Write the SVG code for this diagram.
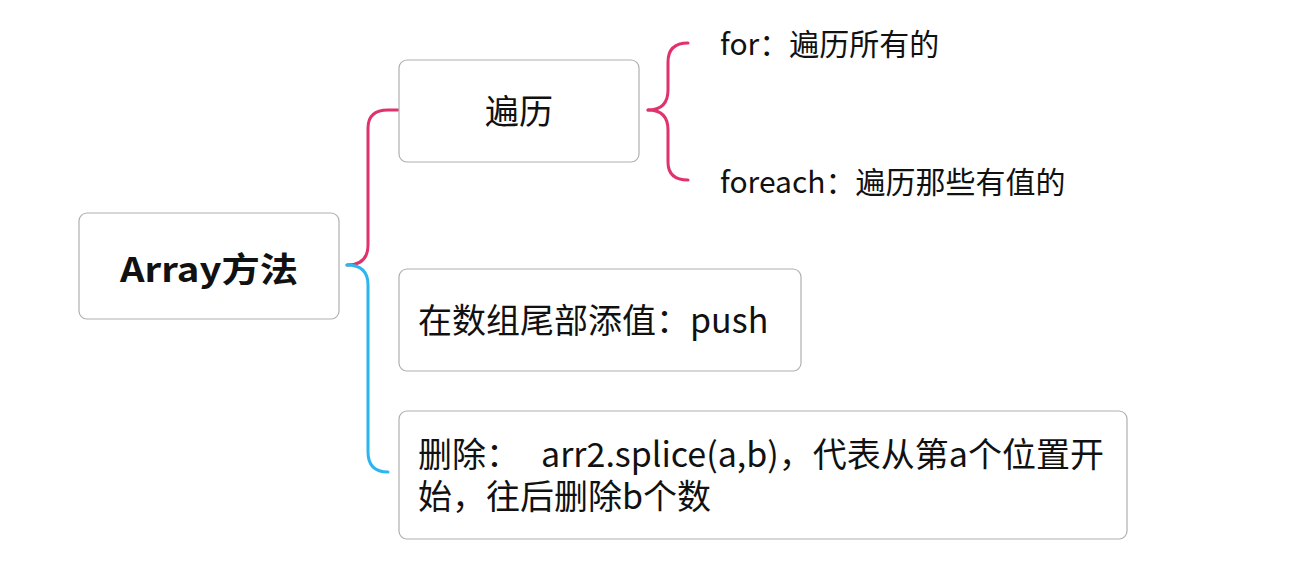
<svg xmlns="http://www.w3.org/2000/svg" width="1307" height="577" viewBox="0 0 1307 577">
<style>
.n{fill:#fff;stroke:#b0b0b0;stroke-width:1.2}
.t{font-family:"Noto Sans CJK SC","Noto Sans",sans-serif;fill:#111;font-size:34px}
.s{font-size:30px}
.c{fill:none;stroke-width:3;stroke-linecap:round}
.p{stroke:#e0336b}.b{stroke:#2bb6f0}
</style>
<rect width="1307" height="577" fill="#fff"/>
<g id="connectors">
<path class="c p" d="M347,265 Q368,265 368,245 L368,128 Q368,110 388,110 L398,110"/>
<path class="c b" d="M347,265 Q368,265 368,285 L368,452 Q368,472 388,472"/>
<path class="c p" d="M648,110 Q668,110 668,90 L668,62 Q668,43 688,43"/>
<path class="c p" d="M648,110 Q668,110 668,130 L668,162 Q668,180 688,180"/>
</g>
<g id="root"><rect class="n" x="79" y="213" width="260" height="106" rx="8"/>
<text class="t" x="120" y="282" font-weight="bold" font-size="38" textLength="178" lengthAdjust="spacingAndGlyphs">Array方法</text></g>
<g id="bianli"><rect class="n" x="399" y="60" width="240" height="102" rx="8"/>
<text class="t" x="519" y="124" text-anchor="middle">遍历</text></g>
<g id="for"><text class="t s" x="720" y="55">for：遍历所有的</text></g>
<g id="foreach"><text class="t s" x="720" y="193">foreach：遍历那些有值的</text></g>
<g id="push"><rect class="n" x="399" y="269" width="402" height="102" rx="8"/>
<text class="t" x="418" y="333">在数组尾部添值：push</text></g>
<g id="del"><rect class="n" x="399" y="411" width="728" height="128" rx="8"/>
<text class="t" x="418" y="467">删除：</text>
<text class="t" x="541" y="467">arr2.splice(a,b)，代表从第a个位置开</text>
<text class="t" x="418" y="509">始，往后删除b个数</text></g>
</svg>
